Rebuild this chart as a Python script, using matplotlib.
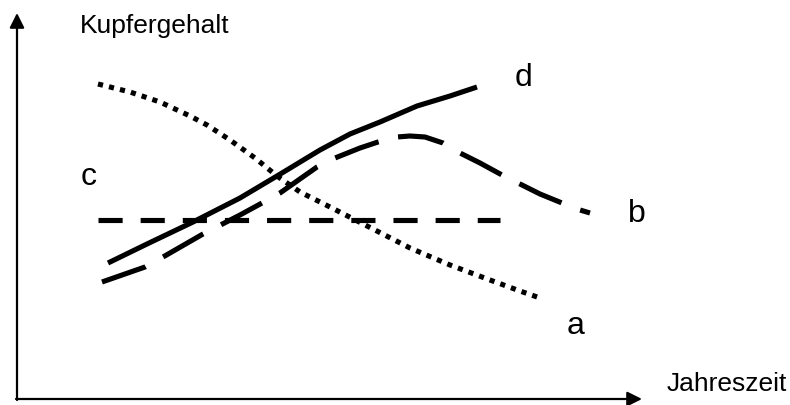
import matplotlib
matplotlib.use("Agg")
import matplotlib.pyplot as plt

plt.rcParams['font.family'] = ['Liberation Sans', 'DejaVu Sans']

# Schematic curves (pixel-like coordinate space, y downward)
a_x = [98, 130, 160, 190, 207, 230, 255, 277, 300, 330, 373, 410, 450, 490, 520, 540]
a_y = [84, 92, 102, 116, 125, 140, 158, 176, 192, 207, 229, 248, 265, 280, 291, 298]

b_x = [102, 145, 163, 203, 240, 262, 280, 317, 335, 360, 378, 397, 410, 425, 443, 460,
       480, 502, 518, 540, 562, 580, 590]
b_y = [282, 267, 257, 234, 215, 203, 193, 167, 158, 148, 142, 137, 136, 137, 143, 153,
       163, 175, 183, 194, 203, 210, 213]

c_x = [98, 500]
c_y = [220, 220]

d_x = [108, 147, 193, 240, 277, 320, 350, 380, 417, 450, 477]
d_y = [263, 244, 222, 198, 176, 150, 134, 122, 106, 96, 87]

labels = ['a', 'b', 'c', 'd']
label_pos = [(576, 326), (637, 214), (89, 177), (524, 78)]
y_title = 'Kupfergehalt'
x_title = 'Jahreszeit'

fig = plt.figure(figsize=(7.9, 4.05), dpi=100)
ax = fig.add_axes([0, 0, 1, 1])
ax.set_xlim(0, 790)
ax.set_ylim(405, 0)
ax.axis('off')

lw = 3.7
ax.plot(a_x, a_y, color='black', lw=lw, dashes=(1.0, 1.2), solid_capstyle='butt', dash_capstyle='butt')
ax.plot(b_x, b_y, color='black', lw=lw, dashes=(9.0, 3.9), dash_capstyle='butt')
ax.plot(c_x, c_y, color='black', lw=lw, dashes=(4.7, 3.5), dash_capstyle='butt')
ax.plot(d_x, d_y, color='black', lw=lw, solid_capstyle='butt')

# Axes arrows
ax.annotate('', xy=(17, 13), xytext=(17, 400),
            arrowprops=dict(arrowstyle='-|>', lw=1.6, mutation_scale=22, color='black',
                            shrinkA=0, shrinkB=0))
ax.annotate('', xy=(642, 399), xytext=(16, 399),
            arrowprops=dict(arrowstyle='-|>', lw=1.6, mutation_scale=22, color='black',
                            shrinkA=0, shrinkB=0))

for lab, (x, y) in zip(labels, label_pos):
    ax.text(x, y, lab, fontsize=23, ha='center', va='center')

ax.text(80, 26, y_title, fontsize=19, ha='left', va='center')
ax.text(667, 384, x_title, fontsize=19, ha='left', va='center')

fig.savefig('out.png', dpi=100)
